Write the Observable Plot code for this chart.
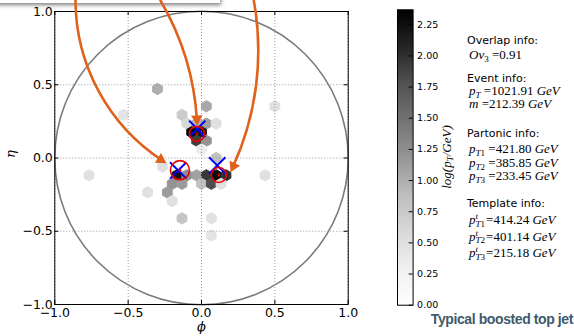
<!DOCTYPE html>
<html>
<head>
<meta charset="utf-8">
<script src="https://cdn.jsdelivr.net/npm/d3@7"></script>
<script src="https://cdn.jsdelivr.net/npm/@observablehq/plot@0.6"></script>
<style>
html,body{margin:0;padding:0;background:#fff;}
body{width:574px;height:336px;position:relative;overflow:hidden;font-family:"DejaVu Sans",sans-serif;}
#topbox{position:absolute;left:-6px;top:-12px;width:226px;height:15px;background:#fff;box-shadow:1px 2px 4px rgba(0,0,0,0.5);}
#main{position:absolute;left:0;top:0;}
#cbar{position:absolute;left:380px;top:0;}
#cblabel{position:absolute;left:447px;top:157px;transform:translate(-50%,-50%) rotate(-90deg);font-family:"Liberation Serif",serif;font-style:italic;font-size:13px;white-space:nowrap;}
#cblabel sub{font-size:0.7em;vertical-align:-0.25em;}
.ln{position:absolute;white-space:nowrap;line-height:13px;color:#000;}
.h{font-family:"DejaVu Sans",sans-serif;font-size:11px;left:467px;}
.m{font-family:"Liberation Serif",serif;font-size:13px;left:469px;}
.m sub{font-size:0.7em;vertical-align:-0.3em;line-height:0;}
.m i{font-style:italic;}
.ss{display:inline-flex;flex-direction:column;font-size:0.7em;line-height:0.82;vertical-align:0.5em;margin-right:1px;}
#caption{position:absolute;right:1px;top:311px;font-family:"Liberation Sans",sans-serif;font-weight:bold;font-size:14px;letter-spacing:-0.4px;color:#3e5a6b;white-space:nowrap;}
</style>
</head>
<body>
<div id="topbox"></div>
<div id="main"></div>
<div id="cbar"></div>
<div id="cblabel"></div>
<div id="info"></div>
<div id="caption">Typical boosted top jet</div>
<script>
// ---------------- data ----------------
const axisTicks = [-1, -0.5, 0, 0.5, 1];
const cbarTicks = [0, 0.25, 0.5, 0.75, 1, 1.25, 1.5, 1.75, 2, 2.25];
const cbarMax = 2.37;
const axisLabels = {x: "ϕ", y: "η"};

// hexbin cells: centre (phi, eta) and log(pT/GeV)
const hexPhi = [-0.300, 0.033, 0.500, -0.533, -0.133, -0.100, -0.033, 0.033, 0.100, -0.067, 0.000, -0.033, 0.033, 0.000, 0.100,
                -0.267, -0.767, -0.167, -0.100, -0.033, 0.033, 0.100, 0.167, 0.433, -0.200, -0.133, 0.000, 0.067, 0.133,
                -0.367, -0.233, -0.200, -0.133, 0.067, 0.067];
const hexEta = [0.471, 0.353, 0.353, 0.294, 0.294, 0.235, 0.235, 0.235, 0.235, 0.176, 0.176, 0.118, 0.118, 0.059, 0.000,
                -0.059, -0.118, -0.118, -0.118, -0.118, -0.118, -0.118, -0.118, -0.118, -0.176, -0.176, -0.176, -0.176, -0.176,
                -0.235, -0.235, -0.294, -0.412, -0.412, -0.529];
const hexLogPt = [1.00, 1.05, 0.50, 0.45, 0.75, 0.60, 0.95, 1.10, 0.50, 2.30, 2.20, 1.90, 1.20, 0.35, 0.85,
                  0.50, 0.50, 2.25, 1.25, 1.10, 1.95, 2.30, 2.00, 0.50, 1.20, 1.15, 0.85, 1.80, 0.50,
                  0.50, 1.15, 0.50, 0.80, 0.50, 0.45];

// subjet axes
const templatePhi = [-0.159, -0.029, 0.107];
const templateEta = [-0.085, 0.199, -0.051];
const partonPhi = [-0.147, -0.031, 0.118];
const partonEta = [-0.083, 0.165, -0.116];
const jetRadius = 1.0;

// info panel values
const overlapOv3 = 0.91;
const eventPt = 1021.91, eventMass = 212.39;
const partonPt = [421.80, 385.85, 233.45];
const templatePt = [414.24, 401.14, 215.18];

// annotation arrows (phi, eta of start and tip)
const arrowStart = [[-0.859, 1.075], [-0.2795, 1.075], [0.3565, 1.075]];
const arrowEnd = [[-0.2386, -0.0354], [-0.029, 0.2215], [0.1977, -0.0968]];

// ---------------- styles ----------------
const W = 360, H = 336, mL = 54.3, mR = 12.3, mT = 11, mB = 32;
const pxPerUnit = (W - mL - mR) / 2;
const gridsize = 30;
const hexR = (2 / gridsize) * pxPerUnit / 2;
const tickLen = 4 / pxPerUnit;
const partonRingR = [9.5, 7.5, 7.5];
const arrowBend = [-29, 14, 18];
const orange = "#e0611b";
const greyStops = ["#ffffff","#f0f0f0","#d9d9d9","#bdbdbd","#969696","#737373","#525252","#252525","#000000"];
const greys = d3.piecewise(d3.interpolateRgb, greyStops);
const colorOpts = {type: "linear", domain: [0, cbarMax], interpolate: greys};

const hexes = hexPhi.map((phi, i) => ({phi, eta: hexEta[i], v: hexLogPt[i]}));
const templates = templatePhi.map((phi, i) => ({phi, eta: templateEta[i]}));
const partons = partonPhi.map((phi, i) => ({phi, eta: partonEta[i], i}));
const arrowData = arrowStart.map((s, i) => ({x1: s[0], y1: s[1], x2: arrowEnd[i][0], y2: arrowEnd[i][1]}));
const headR = 4.3;
const headBack = 2 * Math.sqrt(headR * headR * Math.PI / (3 * Math.sqrt(3))) / pxPerUnit;
const heads = arrowData.map((a, i) => {
  const th = Math.atan2(-(a.y2 - a.y1), a.x2 - a.x1) + arrowBend[i] * Math.PI / 180;
  return {x: a.x2 - headBack * Math.cos(th), y: a.y2 + headBack * Math.sin(th), rot: th * 180 / Math.PI + 90};
});

const main = Plot.plot({
  width: W, height: H, marginLeft: mL, marginRight: mR, marginTop: mT, marginBottom: mB,
  x: {domain: [-1, 1]},
  y: {domain: [-1, 1]},
  r: {type: "identity"},
  color: colorOpts,
  style: {fontFamily: "DejaVu Sans", fontSize: "12.5px", color: "black", background: "transparent", overflow: "visible"},
  marks: [
    Plot.dot(hexes, {x: "phi", y: "eta", symbol: "hexagon", r: hexR, fill: "v", stroke: "v", strokeWidth: 1}),
    Plot.dot([{phi: 0, eta: 0, R: jetRadius}], {x: "phi", y: "eta", r: d => d.R * pxPerUnit, stroke: "#7a7a7a", strokeWidth: 1.6, fill: "none"}),
    Plot.gridX(axisTicks, {stroke: "#999", strokeOpacity: 1, strokeDasharray: "1,2"}),
    Plot.gridY(axisTicks, {stroke: "#999", strokeOpacity: 1, strokeDasharray: "1,2"}),
    Plot.dot(templates, {x: "phi", y: "eta", symbol: "times", r: 7.5, stroke: "#0000ff", strokeWidth: 2}),
    Plot.dot(partons, {x: "phi", y: "eta", r: d => partonRingR[d.i], stroke: "#ee0000", strokeWidth: 1.6, fill: "none"}),
    Plot.dot(partons, {x: "phi", y: "eta", r: 1.4, fill: "#e00000", stroke: "none"}),
    Plot.ruleX(axisTicks, {x: d => d, y1: -1, y2: -1 + tickLen, stroke: "black"}),
    Plot.ruleX(axisTicks, {x: d => d, y1: 1, y2: 1 - tickLen, stroke: "black"}),
    Plot.ruleY(axisTicks, {y: d => d, x1: -1, x2: -1 + tickLen, stroke: "black"}),
    Plot.ruleY(axisTicks, {y: d => d, x1: 1, x2: 1 - tickLen, stroke: "black"}),
    Plot.frame({stroke: "black", strokeWidth: 1}),
    Plot.axisX(axisTicks, {tickSize: 0, tickPadding: 4, tickFormat: d3.format(".1f"), label: null}),
    Plot.axisY(axisTicks, {tickSize: 0, tickPadding: 2, tickFormat: d3.format(".1f"), label: null}),
    Plot.text([axisLabels.x], {frameAnchor: "bottom", dy: 26, fontFamily: "DejaVu Serif", fontStyle: "italic", fontSize: 13}),
    Plot.text([axisLabels.y], {frameAnchor: "left", dx: -44, rotate: -90, fontFamily: "DejaVu Serif", fontStyle: "italic", fontSize: 13}),
    ...arrowData.map((a, i) => Plot.arrow([a], {x1: "x1", y1: "y1", x2: "x2", y2: "y2", bend: arrowBend[i], stroke: orange, strokeWidth: 2.6, headLength: 0, insetEnd: 5})),
    Plot.dot(heads, {x: "x", y: "y", symbol: "triangle", r: headR, rotate: "rot", fill: orange, stroke: "none"})
  ]
});
document.getElementById("main").appendChild(main);

const cbW = 100, cbL = 17, cbBarW = 15.6;
const cbMarks = [];
if (typeof Plot.raster === "function") {
  cbMarks.push(Plot.raster({x1: 0, x2: 1, y1: 0, y2: cbarMax, fill: (x, y) => y, pixelSize: 1}));
}
cbMarks.push(
  Plot.ruleY(cbarTicks, {y: d => d, x1: 0.75, x2: 1, stroke: "black"}),
  Plot.frame({stroke: "black", strokeWidth: 1}),
  Plot.axisY(cbarTicks, {anchor: "right", tickSize: 0, tickPadding: 4, tickFormat: d3.format(".2f"), label: null})
);
const cbar = Plot.plot({
  width: cbW, height: H, marginLeft: cbL, marginRight: cbW - cbL - cbBarW, marginTop: 9.3, marginBottom: H - 304.7,
  x: {domain: [0, 1], axis: null},
  y: {domain: [0, cbarMax]},
  color: colorOpts,
  style: {fontFamily: "DejaVu Sans", fontSize: "9.5px", color: "black", background: "transparent", overflow: "visible"},
  marks: cbMarks
});
document.getElementById("cbar").appendChild(cbar);

document.getElementById("cblabel").innerHTML = "log(p<sub>T</sub>/GeV)";

const f2 = d => d.toFixed(2);
const ptSub = (k) => `<sub><i>T</i>${k}</sub>`;
const ptTpl = (k) => `<span class="ss"><i>t</i><span><i>T</i>${k}</span></span>`;
const lines = [
  {c: "h", t: 33.5, s: "Overlap info:"},
  {c: "m", t: 47.5, s: `<i>Ov</i><sub>3</sub> =${f2(overlapOv3)}`},
  {c: "h", t: 71.5, s: "Event info:"},
  {c: "m", t: 83.5, s: `<i>p</i><sub><i>T</i></sub> =${f2(eventPt)} <i>GeV</i>`},
  {c: "m", t: 97, s: `<i>m</i> =${f2(eventMass)} <i>GeV</i>`},
  {c: "h", t: 126.5, s: "Partonic info:"},
  ...partonPt.map((v, k) => ({c: "m", t: 142 + 13.5 * k, s: `<i>p</i>${ptSub(k + 1)} =${f2(v)} <i>GeV</i>`})),
  {c: "h", t: 196.5, s: "Template info:"},
  ...templatePt.map((v, k) => ({c: "m", t: 213 + 16.5 * k, s: `<i>p</i>${ptTpl(k + 1)}=${f2(v)} <i>GeV</i>`}))
];
const info = document.getElementById("info");
for (const l of lines) {
  const d = document.createElement("div");
  d.className = "ln " + l.c;
  d.style.top = l.t + "px";
  d.innerHTML = l.s;
  info.appendChild(d);
}
</script>
</body>
</html>
